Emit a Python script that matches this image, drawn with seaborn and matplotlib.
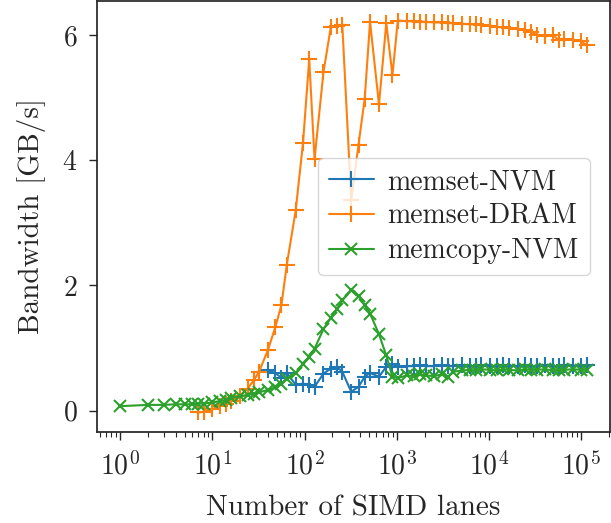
import matplotlib
matplotlib.use("Agg")
import matplotlib.pyplot as plt
import pandas as pd
import seaborn as sns

# x grid: four points per octave (x, 1.25x, 1.5x, 1.75x)
high_lanes = [1280, 1536, 1792, 2048, 2560, 3072, 3584, 4096, 5120, 6144, 7168,
              8192, 10240, 12288, 14336, 16384, 20480, 24576, 28672, 32768,
              40960, 49152, 57344, 65536, 81920, 98304, 114688]

copy_lanes = [1, 2, 3, 4, 5, 6, 7, 8, 10, 12, 14, 16, 20, 24, 28, 32, 40, 48, 56, 64,
              80, 96, 112, 128, 160, 192, 224, 256, 320, 384, 448, 512, 640, 768,
              896, 1024] + high_lanes
copy_nvm = [0.07, 0.09, 0.09, 0.10, 0.10, 0.10, 0.11, 0.11, 0.13, 0.15, 0.17, 0.20,
            0.23, 0.25, 0.27, 0.29, 0.33, 0.37, 0.43, 0.50, 0.60, 0.74, 0.86, 0.99,
            1.30, 1.48, 1.62, 1.76, 1.92, 1.83, 1.68, 1.55, 1.22, 0.88, 0.54, 0.52,
            0.56, 0.55, 0.58, 0.56, 0.55, 0.58, 0.54, 0.62, 0.64, 0.65, 0.64, 0.66,
            0.65, 0.64, 0.66, 0.65, 0.64, 0.66, 0.65, 0.65, 0.66, 0.64, 0.65, 0.65,
            0.66, 0.65, 0.65]

dram_lanes = [7, 8, 10, 12, 14, 16, 20, 24, 28, 32, 40, 48, 56, 64, 80, 96, 112, 128,
              160, 192, 224, 256, 320, 384, 448, 512, 640, 768, 896, 1024] + high_lanes
set_dram = [-0.03, -0.02, 0.02, 0.08, 0.11, 0.16, 0.24, 0.35, 0.48, 0.62, 0.97, 1.33,
            1.69, 2.33, 3.20, 4.28, 5.61, 4.02, 5.41, 6.12, 6.15, 6.16, 3.36, 4.25,
            4.98, 6.21, 4.89, 6.19, 5.36, 6.23,
            6.22, 6.22, 6.21, 6.21, 6.20, 6.20, 6.19, 6.19, 6.18, 6.17, 6.17, 6.16,
            6.15, 6.13, 6.12, 6.11, 6.10, 6.08, 6.05, 6.00, 5.98, 6.00, 5.92, 5.93,
            5.92, 5.90, 5.84]

nvm_lanes = [32, 40, 48, 56, 64, 80, 96, 112, 128, 160, 192, 224, 256, 320, 384, 448,
             512, 640, 768, 896, 1024] + high_lanes
set_nvm = [0.62, 0.64, 0.60, 0.52, 0.60, 0.41, 0.43, 0.40, 0.38, 0.59, 0.67, 0.70,
           0.62, 0.30, 0.38, 0.54, 0.60, 0.54, 0.70, 0.74, 0.70,
           0.71, 0.71, 0.72, 0.71, 0.71, 0.72, 0.71, 0.71, 0.72, 0.71, 0.71, 0.72,
           0.71, 0.71, 0.72, 0.71, 0.71, 0.72, 0.71, 0.71, 0.72, 0.71, 0.71, 0.72,
           0.71, 0.71, 0.72]

sns.set_theme(style="ticks")
plt.rcParams["font.family"] = ["cmr10", "DejaVu Serif"]
plt.rcParams["mathtext.fontset"] = "cm"
plt.rcParams["axes.formatter.use_mathtext"] = True
plt.rcParams["axes.unicode_minus"] = False

fig = plt.figure(figsize=(6.11, 5.23), dpi=100)
ax = fig.add_axes([97 / 611, 91 / 523, 513 / 611, 431 / 523])

palette = sns.color_palette("tab10")
series = [
    (nvm_lanes, set_nvm, palette[0], "+", 12, "memset-NVM"),
    (dram_lanes, set_dram, palette[1], "+", 12, "memset-DRAM"),
    (copy_lanes, copy_nvm, palette[2], "x", 9, "memcopy-NVM"),
]
for xs, ys, col, mk, ms, name in series:
    sns.lineplot(x=xs, y=ys, ax=ax, color=col, marker=mk, markersize=ms,
                 markeredgewidth=1.5, markeredgecolor=col, markerfacecolor=col,
                 linewidth=1.5, sort=False, label=name)

ax.set_xscale("log")
ax.set_xlabel("Number of SIMD lanes", fontsize=21, labelpad=11)
ax.set_ylabel("Bandwidth [GB/s]", fontsize=21, labelpad=12)
ax.set_yticks([0, 2, 4, 6])
ax.tick_params(axis="both", which="major", labelsize=20, length=6, width=1, pad=8)
ax.tick_params(axis="x", which="minor", length=3.5, width=0.8)
ax.legend(loc="center right", bbox_to_anchor=(493 / 513, 0.5), borderaxespad=0,
          fontsize=20, handlelength=1.6, borderpad=0.4, labelspacing=0.3,
          handletextpad=0.5)

fig.savefig("out.png", dpi=100)
